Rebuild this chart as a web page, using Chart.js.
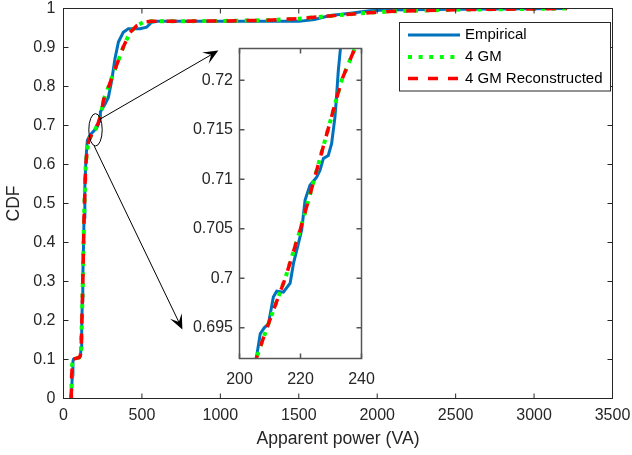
<!DOCTYPE html>
<html>
<head>
<meta charset="utf-8">
<script src="https://cdn.jsdelivr.net/npm/chart.js@4"></script>
<style>
  body { margin: 0; background: #fff; }
  #wrap { position: relative; width: 632px; height: 455px; }
  #main { position: absolute; left: 0; top: 0; }
  #inset { position: absolute; left: 180px; top: 40px; }
</style>
</head>
<body>
<div id="wrap">
  <canvas id="main" width="632" height="455"></canvas>
  <canvas id="inset" width="200" height="360"></canvas>
</div>
<script>
// empirical CDF (VA, probability)
const empX = [45, 52, 56, 60, 64, 80, 100, 108, 112, 116, 120, 123, 127, 131, 136, 141, 147, 152, 165, 180, 193,
  205.5, 206.8, 208.1, 209.5, 211.1, 212.2, 214.4, 216.6, 217.7, 219.3, 220.4, 221.5, 223.1, 225.3, 226.4, 227.5,
  229.1, 230.2, 231.3, 231.8, 232.4, 233.1, 235, 250, 265, 286, 307, 328, 350, 381, 413, 488, 530, 562, 600,
  1000, 1500, 1600, 1700, 1830, 1950, 2050, 2500, 3210];
const empY = [0, 0.02, 0.06, 0.095, 0.101, 0.103, 0.105, 0.109, 0.13, 0.18, 0.25, 0.31, 0.38, 0.465, 0.54, 0.593, 0.636, 0.662, 0.672, 0.68, 0.686,
  0.6919, 0.6944, 0.695, 0.6954, 0.6981, 0.6987, 0.6986, 0.6995, 0.7015, 0.7035, 0.7049, 0.7079, 0.7094, 0.7102, 0.7109, 0.7121,
  0.7124, 0.7136, 0.7163, 0.7183, 0.721, 0.7232, 0.735, 0.745, 0.755, 0.772, 0.815, 0.871, 0.914, 0.939, 0.948, 0.948, 0.952, 0.965, 0.967,
  0.967, 0.967, 0.972, 0.982, 0.988, 0.994, 0.996, 0.998, 1.0];

// 4 component gaussian mixture CDF (reconstructed one lies on top of it)
const gmX = [49, 52, 56, 62, 80, 100, 107, 112, 122, 131, 141, 150, 160, 180,
  205.5, 209, 215, 220, 224.5, 229, 233.5, 237.8, 254, 286, 318, 350, 381, 424, 467, 509, 562,
  1000, 1300, 1500, 1700, 1900, 2100, 2500, 3210];
const gmY = [0, 0.05, 0.095, 0.101, 0.103, 0.105, 0.11, 0.123, 0.278, 0.465, 0.593, 0.636, 0.66, 0.677,
  0.6919, 0.695, 0.7, 0.705, 0.71, 0.715, 0.72, 0.7232, 0.764, 0.798, 0.833, 0.867, 0.901, 0.939, 0.956, 0.965, 0.967,
  0.968, 0.97, 0.974, 0.981, 0.988, 0.993, 0.997, 1.0];

const mainXTicks = [0, 500, 1000, 1500, 2000, 2500, 3000, 3500];
const mainYTicks = [0, 0.1, 0.2, 0.3, 0.4, 0.5, 0.6, 0.7, 0.8, 0.9, 1];
const insetXTicks = [200, 220, 240];
const insetYTicks = [0.695, 0.7, 0.705, 0.71, 0.715, 0.72];
const seriesNames = ["Empirical", "4 GM", "4 GM Reconstructed"];

// zoom marker and arrows, in data units of the main axes
const zoomSpot = [204, 0.689];
const arrowLines = [[228, 0.715, 987, 0.892], [196, 0.647, 758, 0.177]];

const FONT = "'Liberation Sans', Arial, sans-serif";
const AXIS = "#262626";
Chart.defaults.font.family = FONT;

function pts(xs, ys) {
  return xs.map((x, i) => ({ x: x, y: ys[i] }));
}

function makeDatasets() {
  return [
    { label: seriesNames[0], data: pts(empX, empY), borderColor: "#0072BD", borderWidth: 3, order: 3 },
    { label: seriesNames[1], data: pts(gmX, gmY), borderColor: "#00FF00", borderWidth: 4, borderDash: [4, 6.6], order: 2 },
    { label: seriesNames[2], data: pts(gmX, gmY), borderColor: "#FF0000", borderWidth: 3.5, borderDash: [10, 10], order: 1 }
  ].map(d => Object.assign(d, { showLine: true, pointRadius: 0, tension: 0, fill: false }));
}

function setTicks(list) {
  return scale => { scale.ticks = list.map(v => ({ value: v })); };
}

function fitTo(size) {
  return scale => {
    if (scale.isHorizontal()) { scale.height = size; scale.paddingLeft = 0; scale.paddingRight = 0; }
    else { scale.width = size; scale.paddingTop = 0; scale.paddingBottom = 0; }
  };
}

function framePlugin(color, lw, len) {
  return {
    id: "frame",
    afterDatasetsDraw(chart) {
      const { ctx, chartArea: a, scales: { x, y } } = chart;
      ctx.save();
      ctx.strokeStyle = color;
      ctx.lineWidth = lw;
      ctx.strokeRect(a.left, a.top, a.right - a.left, a.bottom - a.top);
      ctx.beginPath();
      x.ticks.forEach(t => {
        const px = x.getPixelForValue(t.value);
        ctx.moveTo(px, a.bottom); ctx.lineTo(px, a.bottom - len);
        ctx.moveTo(px, a.top); ctx.lineTo(px, a.top + len);
      });
      y.ticks.forEach(t => {
        const py = y.getPixelForValue(t.value);
        ctx.moveTo(a.left, py); ctx.lineTo(a.left + len, py);
        ctx.moveTo(a.right, py); ctx.lineTo(a.right - len, py);
      });
      ctx.stroke();
      ctx.restore();
    }
  };
}

function arrow(ctx, x1, y1, x2, y2) {
  const ang = Math.atan2(y2 - y1, x2 - x1);
  const L = 15, W = 6.5;
  const c = Math.cos(ang), s = Math.sin(ang);
  ctx.beginPath();
  ctx.moveTo(x1, y1);
  ctx.lineTo(x2 - c * L * 0.5, y2 - s * L * 0.5);
  ctx.stroke();
  ctx.beginPath();
  ctx.moveTo(x2, y2);
  ctx.lineTo(x2 - c * L - s * W, y2 - s * L + c * W);
  ctx.lineTo(x2 - c * L * 0.55, y2 - s * L * 0.55);
  ctx.lineTo(x2 - c * L + s * W, y2 - s * L - c * W);
  ctx.closePath();
  ctx.fill();
}

const annotatePlugin = {
  id: "annotate",
  afterDraw(chart) {
    const { ctx, scales: { x, y } } = chart;
    ctx.save();
    ctx.strokeStyle = "#000";
    ctx.fillStyle = "#000";
    ctx.lineWidth = 1;
    ctx.beginPath();
    ctx.ellipse(x.getPixelForValue(zoomSpot[0]), y.getPixelForValue(zoomSpot[1]), 6.7, 16.2, 0, 0, Math.PI * 2);
    ctx.stroke();
    arrowLines.forEach(a => {
      arrow(ctx, x.getPixelForValue(a[0]), y.getPixelForValue(a[1]), x.getPixelForValue(a[2]), y.getPixelForValue(a[3]));
    });

    // legend box, MATLAB style
    const bx = 399.5, by = 22.5, bw = 211, bh = 68.5;
    ctx.fillStyle = "#fff";
    ctx.fillRect(bx, by, bw, bh);
    ctx.strokeStyle = AXIS;
    ctx.strokeRect(bx, by, bw, bh);
    const rows = [35, 57, 78.5];
    chart.data.datasets.forEach((d, i) => {
      const ry = rows[i];
      ctx.strokeStyle = d.borderColor;
      ctx.lineWidth = d.borderWidth;
      ctx.setLineDash(d.borderDash || []);
      ctx.beginPath();
      ctx.moveTo(408, ry);
      ctx.lineTo(460, ry);
      ctx.stroke();
      ctx.setLineDash([]);
      ctx.fillStyle = "#000";
      ctx.font = "15px " + FONT;
      ctx.textBaseline = "middle";
      ctx.fillText(d.label, 465, ry);
    });
    ctx.restore();
  }
};

const whiteArea = {
  id: "whiteArea",
  beforeDraw(chart) {
    const { ctx, chartArea: a } = chart;
    ctx.save();
    ctx.fillStyle = "#fff";
    ctx.fillRect(a.left, a.top, a.right - a.left, a.bottom - a.top);
    ctx.restore();
  }
};

const tickFont = { size: 16, family: FONT };
const titleFont = { size: 17.6, family: FONT };

new Chart(document.getElementById("main"), {
  type: "scatter",
  data: { datasets: makeDatasets() },
  options: {
    responsive: false,
    animation: false,
    events: [],
    layout: { padding: { left: 0, right: 19.5, top: 8.5, bottom: 0 } },
    plugins: { legend: { display: false }, tooltip: { enabled: false } },
    scales: {
      x: {
        type: "linear", min: 0, max: 3500,
        afterBuildTicks: setTicks(mainXTicks),
        afterFit: fitTo(56.5),
        grid: { display: false, drawTicks: false },
        border: { display: false },
        ticks: { color: AXIS, font: tickFont, padding: 7, maxRotation: 0, callback: v => String(v) },
        title: { display: true, text: "Apparent power (VA)", color: AXIS, font: titleFont, padding: { top: 0, bottom: 5 } }
      },
      y: {
        type: "linear", min: 0, max: 1,
        afterBuildTicks: setTicks(mainYTicks),
        afterFit: fitTo(63.5),
        grid: { display: false, drawTicks: false },
        border: { display: false },
        ticks: { color: AXIS, font: tickFont, padding: 8, callback: v => String(v) },
        title: { display: true, text: "CDF", color: AXIS, font: titleFont, padding: { top: 3.5, bottom: 0 } }
      }
    }
  },
  plugins: [framePlugin(AXIS, 1, 5), annotatePlugin]
});

new Chart(document.getElementById("inset"), {
  type: "scatter",
  data: { datasets: makeDatasets() },
  options: {
    responsive: false,
    animation: false,
    events: [],
    layout: { padding: { left: 0, right: 18.5, top: 8.5, bottom: 0 } },
    plugins: { legend: { display: false }, tooltip: { enabled: false } },
    scales: {
      x: {
        type: "linear", min: 200, max: 240,
        afterBuildTicks: setTicks(insetXTicks),
        afterFit: fitTo(41.5),
        grid: { display: false, drawTicks: false },
        border: { display: false },
        ticks: { color: AXIS, font: tickFont, padding: 11, maxRotation: 0, callback: v => String(v) }
      },
      y: {
        type: "linear", min: 0.6919, max: 0.7232,
        afterBuildTicks: setTicks(insetYTicks),
        afterFit: fitTo(59.5),
        grid: { display: false, drawTicks: false },
        border: { display: false },
        ticks: { color: AXIS, font: tickFont, padding: 6.5, callback: v => String(v) }
      }
    }
  },
  plugins: [whiteArea, framePlugin("#555", 1.5, 5)]
});
</script>
</body>
</html>
